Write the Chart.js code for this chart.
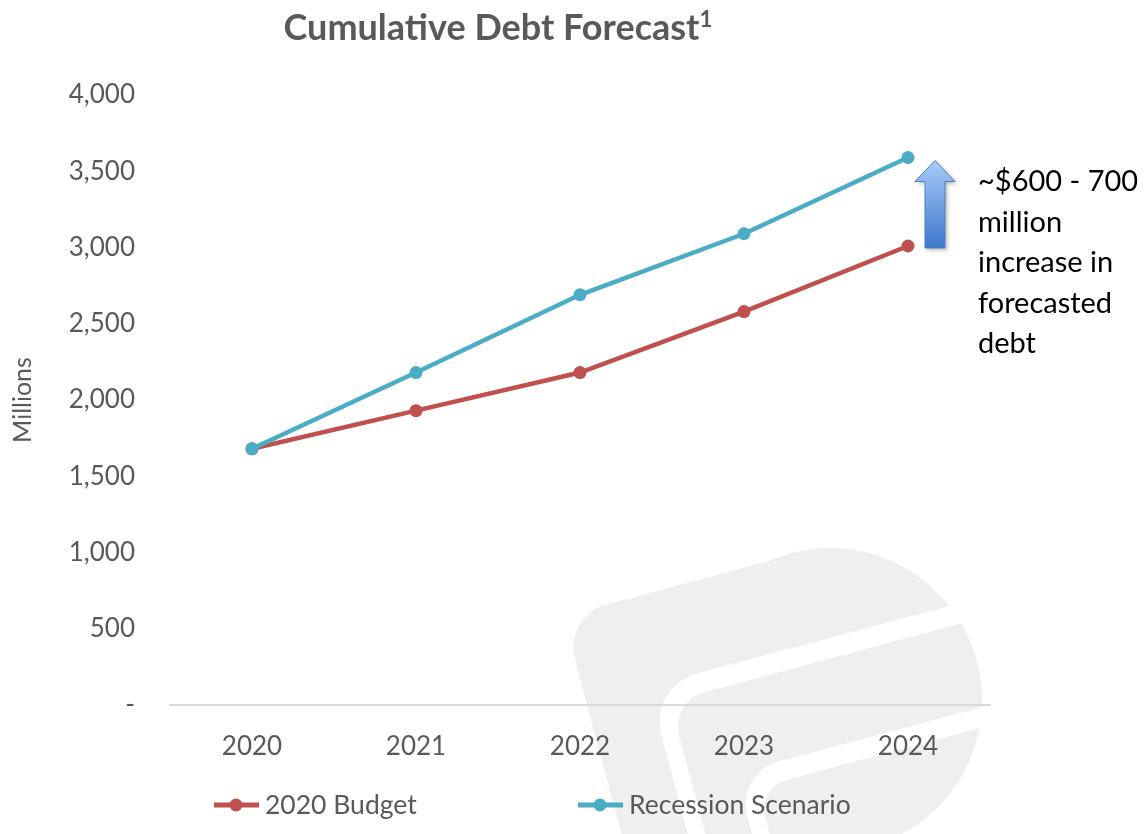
<!DOCTYPE html>
<html>
<head>
<meta charset="utf-8">
<title>Cumulative Debt Forecast</title>
<script src="https://cdn.jsdelivr.net/npm/chart.js@4/dist/chart.umd.min.js"></script>
<style>
  html, body { margin: 0; padding: 0; background: #fff; }
  #wrap { position: relative; width: 1144px; height: 834px; overflow: hidden; }
  #debtChart { position: absolute; left: 0; top: 0; }
  #title {
    position: absolute; left: 0; top: 4px; width: 996px;
    text-align: center; font: bold 36px Lato, sans-serif; color: #595959;
  }
  #title sup { font-size: 0.62em; vertical-align: 0.6em; line-height: 0; }
  #note {
    position: absolute; left: 978px; top: 160px;
    font: 29px Lato, sans-serif; line-height: 40.5px; color: #000; white-space: nowrap;
  }
</style>
</head>
<body>
<div id="wrap">
  <canvas id="debtChart" width="1144" height="834"></canvas>
  <div id="title">Cumulative Debt Forecast<sup>1</sup></div>
  <div id="note">~$600 - 700<br>million<br>increase in<br>forecasted<br>debt</div>
</div>
<script>
// cumulative debt, millions
const years = ["2020", "2021", "2022", "2023", "2024"];
const budget2020 = [1680, 1930, 2180, 2580, 3010];
const recessionScenario = [1680, 2180, 2690, 3090, 3590];
const seriesNames = ["2020 Budget", "Recession Scenario"];
const yMax = 4000;
const yStep = 500;

const RED = "#c0504d";
const BLUE = "#4bacc6";
const TEXT = "#595959";

Chart.defaults.font.family = "Lato, sans-serif";
Chart.defaults.color = TEXT;

// faint logo shape behind the plot
const watermark = {
  id: "watermark",
  beforeDraw(chart) {
    const ctx = chart.ctx;
    ctx.save();
    ctx.translate(830, 700);
    ctx.rotate(-15 * Math.PI / 180);
    ctx.beginPath();
    ctx.arc(0, 0, 152, 0, Math.PI * 2);
    ctx.roundRect(-236, -150, 236, 500, [45, 0, 0, 0]);
    ctx.fillStyle = "#efefef";
    ctx.fill();
    ctx.clip();
    const bands = [
      [-172, -60, 50, "#fff"],
      [-155, -40, 35, "#efefef"],
      [-110, 46, 45, "#fff"],
      [-93, 66, 30, "#efefef"],
    ];
    bands.forEach(([u, v, r, c]) => {
      ctx.beginPath();
      ctx.roundRect(u, v, 600, 600, [r, 0, 0, 0]);
      ctx.fillStyle = c;
      ctx.fill();
    });
    ctx.restore();
  },
};

// up arrow between the two 2024 values
const gapArrow = {
  id: "gapArrow",
  afterDatasetsDraw(chart) {
    const { ctx, scales: { x, y } } = chart;
    const last = years.length - 1;
    const cx = x.getPixelForValue(last) + 27;
    const top = y.getPixelForValue(recessionScenario[last]) + 3;
    const bottom = y.getPixelForValue(budget2020[last]) + 2;
    const headH = 21, headW = 20, shaftW = 10;
    ctx.save();
    ctx.beginPath();
    ctx.moveTo(cx, top);
    ctx.lineTo(cx + headW, top + headH);
    ctx.lineTo(cx + shaftW, top + headH);
    ctx.lineTo(cx + shaftW, bottom);
    ctx.lineTo(cx - shaftW, bottom);
    ctx.lineTo(cx - shaftW, top + headH);
    ctx.lineTo(cx - headW, top + headH);
    ctx.closePath();
    const g = ctx.createLinearGradient(0, top, 0, bottom);
    g.addColorStop(0, "#a9cbf8");
    g.addColorStop(1, "#3b78cc");
    ctx.shadowColor = "rgba(0,0,0,0.3)";
    ctx.shadowBlur = 4;
    ctx.shadowOffsetX = 2;
    ctx.shadowOffsetY = 2;
    ctx.fillStyle = g;
    ctx.fill();
    ctx.shadowColor = "transparent";
    ctx.strokeStyle = "#4f81bd";
    ctx.lineWidth = 1;
    ctx.stroke();
    ctx.restore();
  },
};

// line-and-marker legend under the axis
const lineLegend = {
  id: "lineLegend",
  afterDraw(chart) {
    const { ctx, scales: { x } } = chart;
    const items = [
      { text: seriesNames[0], color: RED, start: x.getPixelForValue(0) - 38 },
      { text: seriesNames[1], color: BLUE, start: x.getPixelForValue(2) - 2 },
    ];
    const ly = 805;
    ctx.save();
    items.forEach((it) => {
      ctx.strokeStyle = it.color;
      ctx.lineWidth = 5;
      ctx.beginPath();
      ctx.moveTo(it.start, ly);
      ctx.lineTo(it.start + 45, ly);
      ctx.stroke();
      ctx.fillStyle = it.color;
      ctx.beginPath();
      ctx.arc(it.start + 22, ly, 6.5, 0, Math.PI * 2);
      ctx.fill();
      ctx.fillStyle = TEXT;
      ctx.font = "26.5px Lato, sans-serif";
      ctx.textBaseline = "middle";
      ctx.fillText(it.text, it.start + 51, ly);
    });
    ctx.restore();
  },
};

const ctx = document.getElementById("debtChart").getContext("2d");
new Chart(ctx, {
  type: "line",
  data: {
    labels: years,
    datasets: [
      {
        label: seriesNames[0],
        data: budget2020,
        borderColor: RED,
        backgroundColor: RED,
        borderWidth: 4.5,
        pointRadius: 6.5,
        pointBorderWidth: 0,
        tension: 0,
        order: 1,
      },
      {
        label: seriesNames[1],
        data: recessionScenario,
        borderColor: BLUE,
        backgroundColor: BLUE,
        borderWidth: 4.5,
        pointRadius: 6.5,
        pointBorderWidth: 0,
        tension: 0,
        order: 0,
      },
    ],
  },
  options: {
    responsive: false,
    animation: false,
    layout: { padding: { top: 95, right: 154, bottom: 65, left: 0 } },
    plugins: {
      legend: { display: false },
      title: { display: false },
      tooltip: { enabled: false },
    },
    scales: {
      x: {
        offset: true,
        grid: { display: false },
        border: { display: true, color: "#d9d9d9", width: 2 },
        ticks: { padding: 18, font: { size: 26 }, color: TEXT },
        afterFit: (scale) => { scale.height = 64; },
      },
      y: {
        min: 0,
        max: yMax,
        grid: { display: false, drawTicks: false },
        border: { display: false },
        ticks: {
          stepSize: yStep,
          padding: 35,
          font: { size: 26 },
          color: TEXT,
          callback: (v) => (v === 0 ? "-" : v.toLocaleString("en-US")),
        },
        title: {
          display: true,
          text: "Millions",
          font: { size: 25 },
          color: TEXT,
          padding: { top: 8, bottom: 0 },
        },
        afterFit: (scale) => { scale.width = 170; },
      },
    },
  },
  plugins: [watermark, gapArrow, lineLegend],
});
</script>
</body>
</html>
